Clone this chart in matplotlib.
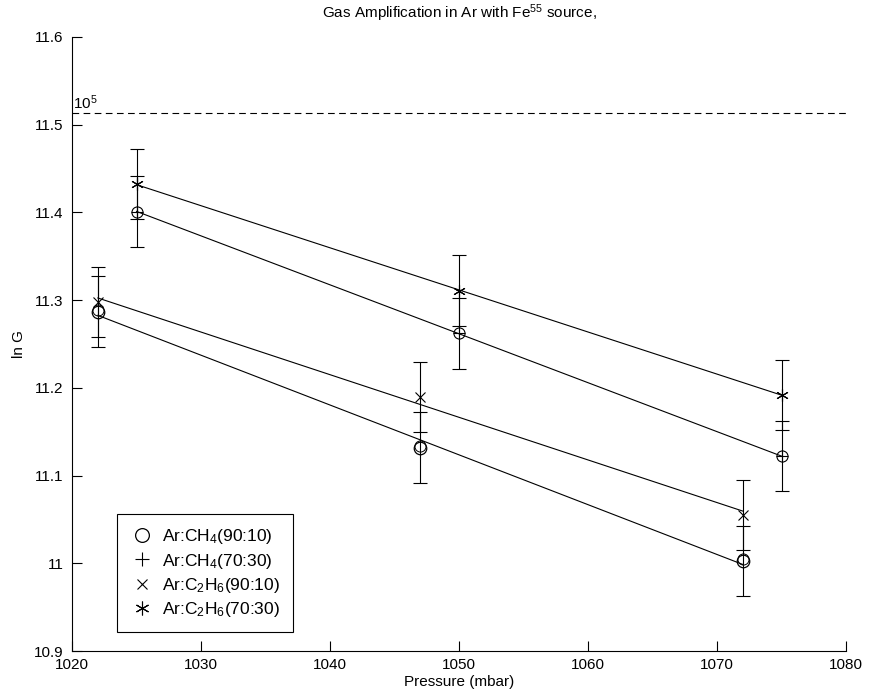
import numpy as np
import matplotlib as mpl
mpl.use('Agg')
import matplotlib.pyplot as plt
from matplotlib.ticker import FuncFormatter

plt.rcParams['font.family'] = ['Liberation Sans', 'DejaVu Sans']
plt.rcParams['mathtext.fontset'] = 'custom'
plt.rcParams['mathtext.rm'] = 'Liberation Sans'
plt.rcParams['mathtext.it'] = 'Liberation Sans:italic'

# pressures (mbar) and ln of gas gain, error on ln G
p_9010 = np.array([1022., 1047., 1072.])
p_7030 = np.array([1025., 1050., 1075.])
lnG_ch4_9010 = np.array([11.287, 11.132, 11.003])
lnG_ch4_7030 = np.array([11.401, 11.262, 11.122])
lnG_c2h6_9010 = np.array([11.298, 11.190, 11.055])
lnG_c2h6_7030 = np.array([11.432, 11.311, 11.192])
err = 0.04
gain_ref = 1e5

labels = ['Ar:CH$_4$(90:10)', 'Ar:CH$_4$(70:30)', 'Ar:C$_2$H$_6$(90:10)', 'Ar:C$_2$H$_6$(70:30)']

fig = plt.figure(figsize=(8.7, 6.98), dpi=100)
axs = fig.add_axes([0.0828, 0.0673, 0.8897, 0.8797])

for side in ['top', 'right']: axs.spines[side].set_visible(False)
for side in ['left', 'bottom']: axs.spines[side].set_linewidth(0.8)
axs.tick_params(axis='both', which='major', direction='in', length=7, width=0.8, labelsize=11)
axs.tick_params(axis='y', pad=6)
axs.tick_params(axis='x', pad=5)

lw = 0.8
eb = dict(fmt='none', ecolor='black', elinewidth=lw, capsize=5, capthick=lw)

# error bars
axs.errorbar(p_9010, lnG_ch4_9010, yerr=err, **eb)
axs.errorbar(p_7030, lnG_ch4_7030, yerr=err, **eb)
axs.errorbar(p_9010, lnG_c2h6_9010, yerr=err, **eb)
axs.errorbar(p_7030, lnG_c2h6_7030, yerr=err, **eb)

# linear fits
for px, py in [(p_9010, lnG_ch4_9010), (p_7030, lnG_ch4_7030), (p_9010, lnG_c2h6_9010), (p_7030, lnG_c2h6_7030)]:
    a, b = np.polyfit(px, py, 1)
    xx = np.array([px[0], px[-1]])
    axs.plot(xx, a*xx + b, '-', color='black', lw=lw)

# markers
h1, = axs.plot(p_9010, lnG_ch4_9010, 'o', mfc='none', mec='black', ms=9, mew=0.9, label=labels[0])
axs.plot(p_9010, lnG_ch4_9010 + 0.002, 'o', mfc='none', mec='black', ms=8, mew=0.7)
axs.plot(p_7030, lnG_ch4_7030, 'o', mfc='none', mec='black', ms=8, mew=0.8)
h2, = axs.plot(p_7030, lnG_ch4_7030, '+', color='black', ms=9, mew=0.8, label=labels[1])
h3, = axs.plot(p_9010, lnG_c2h6_9010, 'x', color='black', ms=7, mew=0.8, label=labels[2])
h4, = axs.plot(p_7030, lnG_c2h6_7030, '*', mfc='none', mec='black', color='black', ms=9, mew=0.8, label=labels[3])
h4.set_marker((6, 2, 0))

# reference gain 10^5
axs.plot([1020, 1080], [np.log(gain_ref)]*2, '--', color='black', lw=lw, dashes=(6, 4))
axs.text(1020.1, np.log(gain_ref) + 0.001, '10$^5$', fontsize=11, ha='left', va='bottom')

axs.set_xlim(1020, 1080)
axs.set_ylim(10.9, 11.6)
axs.set_xticks(np.arange(1020, 1081, 10))
axs.set_yticks(np.arange(10.9, 11.61, 0.1))
axs.yaxis.set_major_formatter(FuncFormatter(lambda v, pos: '%g' % round(v, 1)))

axs.set_xlabel('Pressure (mbar)', fontsize=11, labelpad=2)
axs.set_ylabel('ln G', fontsize=11, labelpad=6)
axs.set_title('Gas Amplification in Ar with Fe$^{55}$ source,', fontsize=11, pad=14)

leg = axs.legend(handles=[h1, h2, h3, h4], loc='lower left', bbox_to_anchor=(0.058, 0.031),
                 borderaxespad=0, fancybox=False, framealpha=1, edgecolor='black',
                 fontsize=12.5, handlelength=1.4, handletextpad=0.45, labelspacing=0.3,
                 borderpad=0.75, markerscale=1.1)
leg.get_frame().set_linewidth(0.8)

fig.savefig('out.png', dpi=100)
